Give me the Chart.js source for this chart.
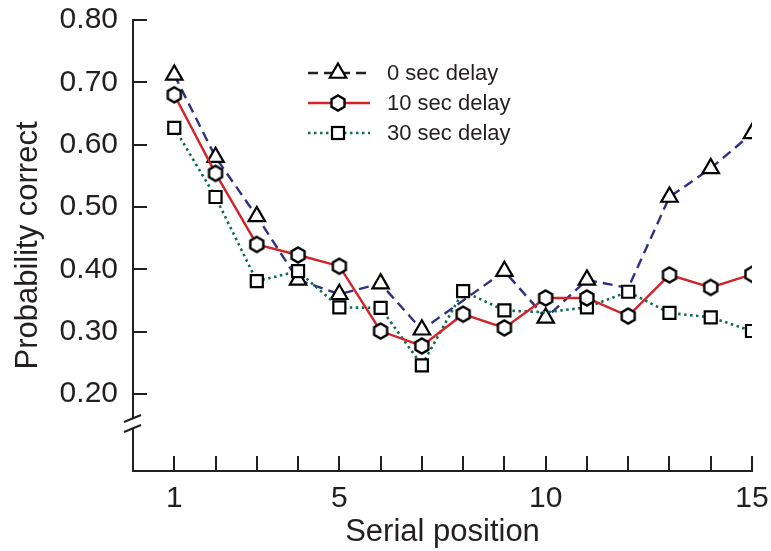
<!DOCTYPE html>
<html>
<head>
<meta charset="utf-8">
<script src="https://cdn.jsdelivr.net/npm/chart.js@4.4.1/dist/chart.umd.min.js"></script>
<style>
  html, body { margin: 0; padding: 0; background: #fff; }
  #wrap { width: 771px; height: 551px; }
</style>
</head>
<body>
<div id="wrap"><canvas id="chart" width="771" height="551"></canvas></div>
<script>
// --- DATA ---
const serialPositions = [1, 2, 3, 4, 5, 6, 7, 8, 9, 10, 11, 12, 13, 14, 15];
const delay0 = [0.712, 0.580, 0.485, 0.383, 0.360, 0.377, 0.303, 0.350, 0.397, 0.322, 0.383, 0.370, 0.516, 0.562, 0.618];
const delay10 = [0.680, 0.554, 0.440, 0.423, 0.405, 0.301, 0.277, 0.328, 0.306, 0.354, 0.354, 0.325, 0.391, 0.371, 0.392];
const delay30 = [0.627, 0.516, 0.381, 0.397, 0.339, 0.338, 0.246, 0.365, 0.334, 0.331, 0.339, 0.364, 0.330, 0.323, 0.301];
const seriesLabels = ['0 sec delay', '10 sec delay', '30 sec delay'];
const yTickValues = [0.2, 0.3, 0.4, 0.5, 0.6, 0.7, 0.8];
const xLabelled = [1, 5, 10, 15];

const FONT = '"Liberation Sans", Arial, Helvetica, sans-serif';
const INK = '#231f20';
const NAVY = '#2e3182';
const RED = '#d2232a';
const GREEN = '#0f6e4a';

// hexagon marker (Chart.js has none)
const makeHexagon = (r) => {
    const c = document.createElement('canvas');
    const s = 20;
    c.width = s; c.height = s;
    const g = c.getContext('2d');
    g.beginPath();
    for (let i = 0; i < 6; i++) {
        const a = Math.PI / 3 * i;
        const px = s / 2 + Math.sin(a) * r, py = s / 2 - Math.cos(a) * r;
        i === 0 ? g.moveTo(px, py) : g.lineTo(px, py);
    }
    g.closePath();
    g.fillStyle = '#fff'; g.fill();
    g.lineWidth = 2.4; g.strokeStyle = '#000'; g.stroke();
    return c;
};
const hexagon = makeHexagon(7.5);

const toPoints = (arr) => arr.map((v, i) => ({ x: serialPositions[i], y: v }));

// markers hidden in the figure (covered spots)
const radii0 = serialPositions.map(p => (p === 8 || p === 12) ? 0 : 9.5);
const radii30 = serialPositions.map(p => p === 10 ? 0 : 8.5);

// --- AXES + BREAK + LEGEND ---
const axesPlugin = {
    id: 'axes',
    beforeDatasetsDraw(chart) {
        const { ctx, scales: { x, y } } = chart;
        const left = x.left, bottom = y.bottom;
        ctx.save();
        ctx.strokeStyle = INK;
        ctx.lineWidth = 2;
        ctx.lineCap = 'butt';
        // y axis with break
        const breakTop = 418, breakBot = 428;
        ctx.beginPath();
        ctx.moveTo(left, y.getPixelForValue(0.8) - 1);
        ctx.lineTo(left, breakTop);
        ctx.moveTo(left, breakBot);
        ctx.lineTo(left, bottom + 1);
        // x axis
        ctx.moveTo(left - 1, bottom);
        ctx.lineTo(x.getPixelForValue(15) + 1, bottom);
        // y ticks (inside)
        yTickValues.forEach(v => {
            const py = Math.round(y.getPixelForValue(v));
            ctx.moveTo(left, py);
            ctx.lineTo(left + 14, py);
        });
        // x ticks (inside)
        serialPositions.forEach(p => {
            const px = Math.round(x.getPixelForValue(p));
            ctx.moveTo(px, bottom);
            ctx.lineTo(px, bottom - 15);
        });
        ctx.stroke();
        // break marks
        ctx.beginPath();
        ctx.moveTo(left - 9, breakTop + 4);
        ctx.lineTo(left + 8, breakTop - 3);
        ctx.moveTo(left - 9, breakBot + 4);
        ctx.lineTo(left + 8, breakBot - 3);
        ctx.stroke();
        ctx.restore();
    },
    afterDraw(chart) {
        const { ctx } = chart;
        const rows = [73, 103, 133];
        ctx.save();
        chart.data.datasets.forEach((ds, i) => {
            const yy = rows[i];
            ctx.beginPath();
            ctx.setLineDash(ds.borderDash || []);
            ctx.strokeStyle = i === 0 ? INK : ds.borderColor;
            ctx.lineWidth = ds.borderWidth;
            ctx.moveTo(308, yy);
            ctx.lineTo(370, yy);
            ctx.stroke();
            ctx.setLineDash([]);
            // marker
            ctx.fillStyle = '#fff';
            ctx.strokeStyle = '#000';
            ctx.lineWidth = 2.2;
            if (ds.pointStyle === 'triangle') {
                const r = 9.5;
                ctx.beginPath();
                ctx.moveTo(338, yy - r);
                ctx.lineTo(338 + r * Math.sin(Math.PI / 3), yy + r / 2);
                ctx.lineTo(338 - r * Math.sin(Math.PI / 3), yy + r / 2);
                ctx.closePath();
                ctx.fill(); ctx.stroke();
            } else if (ds.pointStyle === 'rect') {
                ctx.fillRect(332, yy - 6, 12, 12);
                ctx.strokeRect(332, yy - 6, 12, 12);
            } else {
                ctx.drawImage(hexagon, 338 - hexagon.width / 2, yy - hexagon.height / 2);
            }
            ctx.fillStyle = INK;
            ctx.font = '22px ' + FONT;
            ctx.textBaseline = 'middle';
            ctx.textAlign = 'left';
            ctx.fillText(ds.label, 387, yy + 1);
        });
        ctx.restore();
    }
};

new Chart(document.getElementById('chart'), {
    type: 'line',
    data: {
        datasets: [
            {
                label: seriesLabels[0], data: toPoints(delay0),
                borderColor: NAVY, borderWidth: 2.4, borderDash: [10, 6],
                pointStyle: 'triangle', pointRadius: radii0,
                pointBackgroundColor: '#fff', pointBorderColor: '#000', pointBorderWidth: 2.2,
                order: 3
            },
            {
                label: seriesLabels[1], data: toPoints(delay10),
                borderColor: RED, borderWidth: 2.4,
                pointStyle: hexagon, pointRadius: 7,
                order: 1
            },
            {
                label: seriesLabels[2], data: toPoints(delay30),
                borderColor: GREEN, borderWidth: 2.6, borderDash: [2.5, 3.5],
                pointStyle: 'rect', pointRadius: radii30,
                pointBackgroundColor: '#fff', pointBorderColor: '#000', pointBorderWidth: 2.2,
                order: 2
            }
        ]
    },
    options: {
        responsive: false,
        animation: false,
        devicePixelRatio: 1,
        layout: { padding: { top: 20, right: 19, left: 0, bottom: 0 } },
        plugins: { legend: { display: false }, tooltip: { enabled: false } },
        elements: { line: { tension: 0, fill: false } },
        scales: {
            x: {
                type: 'linear', min: 0, max: 15,
                afterBuildTicks: (s) => { s.ticks = serialPositions.map(v => ({ value: v })); },
                afterFit: (s) => { s.height = 80; s.paddingLeft = 0; s.paddingRight = 0; },
                grid: { display: false, drawTicks: false },
                border: { display: false },
                ticks: {
                    autoSkip: false, maxRotation: 0, padding: 10,
                    color: INK, font: { family: FONT, size: 30 },
                    callback: (v) => xLabelled.includes(v) ? String(v) : ''
                },
                title: {
                    display: true, text: 'Serial position', color: INK,
                    font: { family: FONT, size: 31 }, padding: { top: 4, bottom: 0 }
                }
            },
            y: {
                type: 'linear', min: 0.0764, max: 0.80,
                afterBuildTicks: (s) => { s.ticks = yTickValues.map(v => ({ value: v })); },
                afterFit: (s) => { s.width = 133; s.paddingTop = 0; s.paddingBottom = 0; },
                grid: { display: false, drawTicks: false },
                border: { display: false },
                ticks: {
                    padding: 15, color: INK, font: { family: FONT, size: 30 },
                    callback: (v) => v.toFixed(2)
                },
                title: {
                    display: true, text: 'Probability correct', color: INK,
                    font: { family: FONT, size: 31 }, padding: { top: 10, bottom: 0 }
                }
            }
        }
    },
    plugins: [axesPlugin]
});
</script>
</body>
</html>
